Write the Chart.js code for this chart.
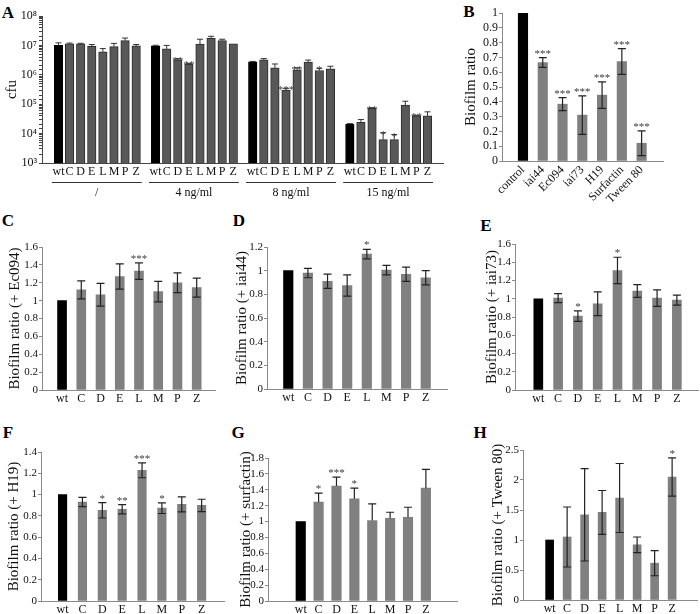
<!DOCTYPE html>
<html>
<head>
<meta charset="utf-8">
<script src="https://cdn.jsdelivr.net/npm/chart.js@4.4.0/dist/chart.umd.min.js"></script>
<style>
body { margin: 0; background: #fff; width: 700px; height: 614px; position: relative; overflow: hidden; }
canvas { position: absolute; }
.tag { position: absolute; font: bold 17px "Liberation Serif", serif; line-height: 1; transform: translate(-50%, -50%); color: #000; }
</style>
</head>
<body>
<div class="tag" style="left:8px;top:12px">A</div>
<div class="tag" style="left:469px;top:11px">B</div>
<div class="tag" style="left:8px;top:220px">C</div>
<div class="tag" style="left:239px;top:220px">D</div>
<div class="tag" style="left:486px;top:225px">E</div>
<div class="tag" style="left:8px;top:432px">F</div>
<div class="tag" style="left:238px;top:432px">G</div>
<div class="tag" style="left:480px;top:432px">H</div>
<script>
const SERIF = '"Liberation Serif", "Times New Roman", serif';

// ---- data ----
const mutants = ['wt', 'C', 'D', 'E', 'L', 'M', 'P', 'Z'];

// A: cfu after treatment (log axis)
const aGroups = ['/', '4 ng/ml', '8 ng/ml', '15 ng/ml'];
const aDecades = [1e3, 1e4, 1e5, 1e6, 1e7, 1e8];
const aCfu0  = [1.01e7, 1.12e7, 1.12e7, 9.3e6, 6.0e6, 9.1e6, 1.45e7, 9.6e6];
const aErr0  = [2.1e6, 0.8e6, 0.6e6, 1.4e6, 1.8e6, 2.6e6, 3.3e6, 1.1e6];
const aStar0 = ['', '', '', '', '', '', '', ''];
const aCfu4  = [9.6e6, 7.6e6, 3.2e6, 2.3e6, 1.1e7, 1.74e7, 1.45e7, 1.12e7];
const aErr4  = [0.5e6, 2.4e6, 0.35e6, 0.15e6, 5.2e6, 3.0e6, 1.7e6, 0];
const aStar4 = ['', '', '**', '**', '', '', '', ''];
const aCfu8  = [2.75e6, 3.2e6, 1.73e6, 3.0e5, 1.47e6, 2.7e6, 1.4e6, 1.6e6];
const aErr8  = [0.1e6, 0.35e6, 0.6e6, 0.47e5, 0.27e6, 0.46e6, 0.26e6, 0.35e6];
const aStar8 = ['', '', '', '***', '**', '', '*', ''];
const aCfu15  = [2.05e4, 2.4e4, 7.2e4, 6.2e3, 6.2e3, 9.3e4, 4.0e4, 4.0e4];
const aErr15  = [1.4e3, 6e3, 4e3, 4.5e3, 3.1e3, 3.3e4, 2e3, 1.5e4];
const aStar15 = ['', '', '**', '*', '*', '', '**', ''];

// B: biofilm ratio of wt with supernatants / surfactants
const bLabels = ['control', 'iai44', 'Ec094', 'iai73', 'H19', 'Surfactin', 'Tween 80'];
const bRatio = [1, 0.665, 0.384, 0.31, 0.445, 0.672, 0.12];
const bErr   = [0, 0.033, 0.044, 0.13, 0.09, 0.087, 0.084];
const bStars = ['', '***', '***', '***', '***', '***', '***'];

// C..H: biofilm ratio of mutants
const cRatio = [1, 1.12, 1.065, 1.27, 1.33, 1.10, 1.20, 1.145];
const cErr   = [0, 0.1, 0.127, 0.142, 0.093, 0.115, 0.11, 0.106];
const cStars = ['', '', '', '', '***', '', '', ''];

const dRatio = [1, 0.98, 0.91, 0.875, 1.14, 1.005, 0.97, 0.94];
const dErr   = [0, 0.04, 0.06, 0.09, 0.04, 0.04, 0.06, 0.06];
const dStars = ['', '', '', '', '*', '', '', ''];

const eRatio = [1, 1.007, 0.81, 0.945, 1.31, 1.085, 1.007, 0.985];
const eErr   = [0, 0.05, 0.057, 0.13, 0.145, 0.07, 0.09, 0.055];
const eStars = ['', '', '*', '', '*', '', '', ''];

const fRatio = [1, 0.93, 0.852, 0.862, 1.228, 0.872, 0.908, 0.898];
const fErr   = [0, 0.043, 0.072, 0.044, 0.07, 0.05, 0.07, 0.058];
const fStars = ['', '', '*', '**', '***', '*', '', ''];

const gRatio = [1, 1.244, 1.446, 1.286, 1.012, 1.041, 1.054, 1.42];
const gErr   = [0, 0.113, 0.114, 0.135, 0.21, 0.076, 0.126, 0.236];
const gStars = ['', '*', '***', '*', '', '', '', ''];

const hRatio = [1, 1.05, 1.42, 1.46, 1.70, 0.92, 0.614, 2.05];
const hErr   = [0, 0.50, 0.77, 0.365, 0.575, 0.13, 0.21, 0.32];
const hStars = ['', '', '', '', '', '', '', '*'];

// ---- plugins ----
const errorBars = {
    id: 'errorBars',
    afterDatasetsDraw(chart) {
        const ds = chart.data.datasets[0];
        const meta = chart.getDatasetMeta(0);
        const y = chart.scales.y;
        const ctx = chart.ctx;
        ctx.save();
        ctx.strokeStyle = ds.errColor;
        ctx.lineWidth = ds.errWidth;
        ctx.fillStyle = '#3a3a3a';
        ctx.font = '11px ' + SERIF;
        ctx.textAlign = 'center';
        ctx.textBaseline = 'alphabetic';
        meta.data.forEach((bar, i) => {
            const v = ds.data[i].y, e = ds.errs[i];
            const top = y.getPixelForValue(v + e);
            if (e > 0) {
                const bot = y.getPixelForValue(ds.upOnly ? v : v - e);
                ctx.beginPath();
                ctx.moveTo(bar.x, top); ctx.lineTo(bar.x, bot);
                ctx.moveTo(bar.x - ds.cap, top); ctx.lineTo(bar.x + ds.cap, top);
                if (!ds.upOnly) { ctx.moveTo(bar.x - ds.cap, bot); ctx.lineTo(bar.x + ds.cap, bot); }
                ctx.stroke();
            }
            if (ds.stars[i]) ctx.fillText(ds.stars[i], bar.x, top + ds.starShift);
        });
        ctx.restore();
    }
};

// y-axis title, centred on the plot area
const yTitle = {
    id: 'yTitle',
    afterDraw(chart) {
        const ds = chart.data.datasets[0];
        const a = chart.chartArea, ctx = chart.ctx;
        ctx.save();
        ctx.translate(ds.titleX, (a.top + a.bottom) / 2 + ds.titleDy);
        ctx.rotate(-Math.PI / 2);
        ctx.fillStyle = '#111';
        ctx.font = '15px ' + SERIF;
        ctx.textAlign = 'center';
        ctx.textBaseline = 'middle';
        ctx.fillText(ds.title, 0, 0);
        ctx.restore();
    }
};

const GROUP_STEP = 8.75;
const groupLabels = {
    id: 'groupLabels',
    afterDraw(chart) {
        const x = chart.scales.x, ctx = chart.ctx;
        const b = chart.chartArea.bottom;
        ctx.save();
        ctx.strokeStyle = '#333'; ctx.lineWidth = 1;
        ctx.fillStyle = '#111';
        ctx.font = '12px ' + SERIF;
        ctx.textAlign = 'center'; ctx.textBaseline = 'middle';
        aGroups.forEach((g, k) => {
            const x0 = x.getPixelForValue(k * GROUP_STEP - 0.6);
            const x1 = x.getPixelForValue(k * GROUP_STEP + 7.5);
            ctx.beginPath();
            ctx.moveTo(x0, b + 19.5); ctx.lineTo(x1, b + 19.5);
            ctx.stroke();
            ctx.fillText(g, (x0 + x1) / 2, b + 30);
        });
        ctx.restore();
    }
};

const SUP = { 3: '\u00b3', 4: '\u2074', 5: '\u2075', 6: '\u2076', 7: '\u2077', 8: '\u2078' };
const plain = v => String(Number(v.toFixed(2)));

function panel(box, area, o) {
    const cv = document.createElement('canvas');
    cv.width = box.w; cv.height = box.h;
    cv.style.left = box.x + 'px'; cv.style.top = box.y + 'px';
    document.body.appendChild(cv);
    const xs = o.xs || o.values.map((_, i) => i);
    const yW = area.l - box.x;
    const xH = box.y + box.h - area.b;
    const axis = o.axisColor;
    const tickFont = { family: SERIF, size: o.tickSize || 11 };

    const yTicks = o.log ? {
        autoSkip: false, padding: 2, color: '#111', font: tickFont,
        callback: v => {
            const e = Math.round(Math.log10(v));
            return aDecades.some(d => Math.abs(d - v) < d * 1e-6) ? '10' + SUP[e] : '';
        }
    } : { stepSize: o.step, autoSkip: false, padding: 1, color: '#111', font: tickFont, callback: plain };

    const plugins = [errorBars, yTitle];
    if (o.extra) plugins.push(o.extra);

    return new Chart(cv, {
        type: 'bar',
        data: {
            datasets: [{
                data: o.values.map((v, i) => ({ x: xs[i], y: v })),
                backgroundColor: o.values.map((_, i) => o.ctrl.includes(i) ? '#000' : o.fill),
                borderColor: o.values.map((_, i) => o.ctrl.includes(i) ? '#000' : (o.edge || o.fill)),
                borderWidth: o.edge ? 1 : 0,
                barThickness: o.barW,
                errs: o.errs, stars: o.stars, upOnly: !!o.upOnly,
                cap: o.cap, errColor: o.errColor || '#222', errWidth: o.errWidth || 1.2,
                starShift: o.starShift,
                title: o.title, titleX: o.titleX - box.x, titleDy: o.titleDy || 0
            }]
        },
        options: {
            responsive: false,
            animation: false,
            layout: { padding: { left: 0, top: area.t - box.y, right: box.x + box.w - area.r, bottom: 0 } },
            plugins: { legend: { display: false }, tooltip: { enabled: false } },
            scales: {
                x: {
                    type: 'linear', min: o.xMin, max: o.xMax,
                    afterBuildTicks: s => { s.ticks = xs.map(v => ({ value: v })); },
                    afterFit: s => { s.height = xH; },
                    grid: { display: false, drawTicks: false },
                    border: { color: axis, width: 1 },
                    ticks: {
                        autoSkip: false, maxRotation: o.rot || 0, minRotation: o.rot || 0,
                        padding: 2, color: '#111', font: o.xFont || tickFont,
                        callback: (v, i) => o.labels[i]
                    }
                },
                y: {
                    type: o.log ? 'logarithmic' : 'linear',
                    min: o.yMin, max: o.yMax,
                    afterFit: s => { s.width = yW; },
                    grid: { drawOnChartArea: false, tickLength: 3, color: axis, tickColor: axis },
                    border: { color: axis, width: 1 },
                    ticks: yTicks
                }
            }
        },
        plugins: plugins
    });
}

// ---- panel A ----
const aValues = [].concat(aCfu0, aCfu4, aCfu8, aCfu15);
const aX = [];
aGroups.forEach((g, k) => mutants.forEach((m, i) => aX.push(k * GROUP_STEP + i)));
panel({ x: 0, y: 4, w: 456, h: 200 }, { l: 42, t: 16, r: 443, b: 163 }, {
    values: aValues, xs: aX, labels: [].concat(mutants, mutants, mutants, mutants),
    errs: [].concat(aErr0, aErr4, aErr8, aErr15), stars: [].concat(aStar0, aStar4, aStar8, aStar15),
    ctrl: [0, 8, 16, 24], fill: '#585858', edge: '#2c2c2c', barW: 8.5,
    upOnly: true, cap: 3, errColor: '#333', errWidth: 1, starShift: 5,
    log: true, yMin: 1e3, yMax: 1e8, xMin: -0.92, xMax: 34.08, tickSize: 12,
    axisColor: '#444', title: 'cfu', titleX: 12, extra: groupLabels
});

// ---- panel B ----
panel({ x: 460, y: 2, w: 240, h: 210 }, { l: 502, t: 13, r: 663, b: 161 }, {
    values: bRatio, labels: bLabels, errs: bErr, stars: bStars,
    ctrl: [0], fill: '#808080', barW: 9.5, cap: 4, starShift: -1,
    yMin: 0, yMax: 1, step: 0.1, xMin: -0.48, xMax: 6.5, rot: 45, tickSize: 12,
    axisColor: '#8a8a8a', title: 'Biofilm ratio', titleX: 471
});

// ---- panels C..H ----
const common = { labels: mutants, ctrl: [0], fill: '#808080', cap: 4, starShift: -1, axisColor: '#8a8a8a',
    xFont: { family: SERIF, size: 12 } };
panel({ x: 0, y: 236, w: 228, h: 184 }, { l: 42, t: 247, r: 215, b: 390 }, Object.assign({}, common, {
    values: cRatio, errs: cErr, stars: cStars, barW: 9,
    yMin: 0, yMax: 1.6, step: 0.2, xMin: -0.48, xMax: 7.39, title: 'Biofilm ratio (+ Ec094)', titleX: 15
}));
panel({ x: 228, y: 236, w: 227, h: 184 }, { l: 267, t: 247, r: 447, b: 389 }, Object.assign({}, common, {
    values: dRatio, errs: dErr, stars: dStars, barW: 9.5,
    yMin: 0, yMax: 1.2, step: 0.2, xMin: -0.51, xMax: 7.51, title: 'Biofilm ratio (+ iai44)', titleX: 242
}));
panel({ x: 478, y: 234, w: 222, h: 186 }, { l: 515, t: 244, r: 698, b: 390 }, Object.assign({}, common, {
    values: eRatio, errs: eErr, stars: eStars, barW: 9,
    yMin: 0, yMax: 1.6, step: 0.2, xMin: -0.6, xMax: 7.49, title: 'Biofilm ratio (+ iai73)', titleX: 492
}));
panel({ x: 0, y: 442, w: 234, h: 172 }, { l: 41, t: 452, r: 224, b: 601 }, Object.assign({}, common, {
    values: fRatio, errs: fErr, stars: fStars, barW: 8.5,
    yMin: 0, yMax: 1.4, step: 0.2, xMin: -0.51, xMax: 7.55, title: 'Biofilm ratio (+ H19)', titleX: 14
}));
panel({ x: 232, y: 446, w: 235, h: 168 }, { l: 268, t: 458, r: 457, b: 601 }, Object.assign({}, common, {
    values: gRatio, errs: gErr, stars: gStars, barW: 9.5, upOnly: true,
    yMin: 0, yMax: 1.8, step: 0.2, xMin: -1.17, xMax: 8.08, title: 'Biofilm ratio (+ surfactin)', titleX: 246
}));
panel({ x: 484, y: 440, w: 216, h: 174 }, { l: 523, t: 450, r: 697, b: 600 }, Object.assign({}, common, {
    values: hRatio, errs: hErr, stars: hStars, barW: 8,
    yMin: 0, yMax: 2.5, step: 0.5, xMin: -0.9, xMax: 7.8, title: 'Biofilm ratio (+ Tween 80)', titleX: 498
}));
</script>
</body>
</html>
